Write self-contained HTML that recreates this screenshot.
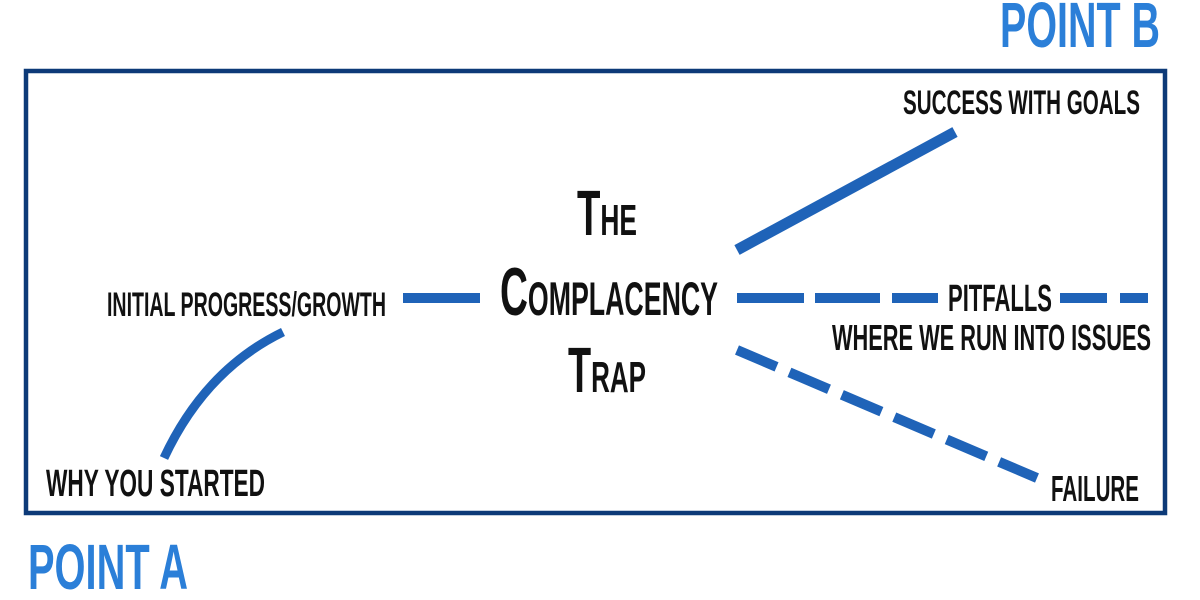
<!DOCTYPE html>
<html><head><meta charset="utf-8"><style>
html,body{margin:0;padding:0;background:#fff;}
svg{display:block}
text{font-family:"Liberation Sans Narrow","Liberation Sans",sans-serif;font-weight:bold;}
</style></head><body>
<svg width="1200" height="600" viewBox="0 0 1200 600" xmlns="http://www.w3.org/2000/svg">
<rect x="0" y="0" width="1200" height="600" fill="#fff"/>
<rect x="26" y="71" width="1139" height="442" fill="none" stroke="#0d3a78" stroke-width="4.5"/>
<g fill="#2b7fd8">
<text x="1000" y="47" font-size="64" textLength="160" lengthAdjust="spacingAndGlyphs">POINT B</text>
<text x="28" y="589" font-size="64" textLength="160" lengthAdjust="spacingAndGlyphs">POINT A</text>
</g>
<g fill="#111">
<text x="903" y="114" font-size="34" textLength="237" lengthAdjust="spacingAndGlyphs">SUCCESS WITH GOALS</text>
<text x="107" y="316" font-size="34" textLength="279" lengthAdjust="spacingAndGlyphs">INITIAL PROGRESS/GROWTH</text>
<text x="46" y="496" font-size="38" textLength="219" lengthAdjust="spacingAndGlyphs">WHY YOU STARTED</text>
<text x="948" y="311" font-size="38" textLength="104" lengthAdjust="spacingAndGlyphs">PITFALLS</text>
<text x="832" y="350" font-size="36" textLength="319" lengthAdjust="spacingAndGlyphs">WHERE WE RUN INTO ISSUES</text>
<text x="1051" y="501" font-size="36" textLength="88" lengthAdjust="spacingAndGlyphs">FAILURE</text>
<text x="577" y="235" font-size="64" textLength="60" lengthAdjust="spacingAndGlyphs"><tspan>T</tspan><tspan font-size="44">HE</tspan></text>
<text x="500" y="315" font-size="68" textLength="218" lengthAdjust="spacingAndGlyphs"><tspan>C</tspan><tspan font-size="47">OMPLACENCY</tspan></text>
<text x="568" y="392" font-size="64" textLength="78" lengthAdjust="spacingAndGlyphs"><tspan>T</tspan><tspan font-size="44">RAP</tspan></text>
</g>
<g stroke="#1f63b8" fill="none" stroke-width="10">
<line x1="403" y1="298" x2="480" y2="298"/>
<path d="M164 458 Q205 370 283 332" stroke-width="9"/>
<line x1="737" y1="250" x2="955" y2="132" stroke-width="11"/>
<line x1="737" y1="298" x2="804" y2="298"/>
<line x1="815" y1="298" x2="880" y2="298"/>
<line x1="892" y1="298" x2="938" y2="298"/>
<line x1="1060" y1="298" x2="1107" y2="298"/>
<line x1="1120" y1="298" x2="1148" y2="298"/>
<line x1="737" y1="350" x2="1037" y2="478" stroke-dasharray="43 14"/>
</g>
</svg>
</body></html>
